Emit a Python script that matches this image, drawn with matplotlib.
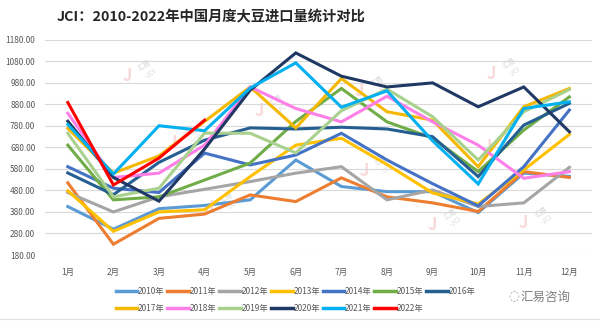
import matplotlib
matplotlib.use("Agg")
import matplotlib.pyplot as plt
from matplotlib.lines import Line2D

plt.rcParams["font.family"] = ["Noto Sans CJK SC", "DejaVu Sans"]
plt.rcParams["axes.unicode_minus"] = False

# 月份
months = ["1月", "2月", "3月", "4月", "5月", "6月", "7月", "8月", "9月", "10月", "11月", "12月"]

# 各年度月度大豆进口量(万吨)
y2010 = [405, 300, 395, 410, 436, 621, 498, 474, 474, 377, 560, 545]
y2011 = [515, 230, 350, 370, 459, 428, 538, 450, 422, 382, 567, 540]
y2012 = [470, 380, 450, 485, 521, 560, 590, 436, 482, 405, 422, 587]
y2013 = [478, 290, 380, 390, 544, 690, 722, 600, 468, 417, 575, 740]
y2014 = [590, 490, 470, 653, 598, 644, 745, 621, 511, 408, 590, 853]
y2015 = [690, 436, 450, 528, 607, 800, 953, 798, 723, 567, 760, 914]
y2016 = [561, 460, 610, 713, 770, 765, 773, 765, 729, 544, 783, 884]
y2017 = [768, 560, 640, 800, 960, 770, 999, 845, 806, 590, 868, 953]
y2018 = [838, 540, 560, 690, 960, 860, 798, 917, 798, 690, 536, 567]
y2019 = [745, 450, 490, 746, 745, 654, 850, 950, 822, 621, 845, 948]
y2020 = [801, 540, 430, 672, 945, 1118, 1010, 960, 979, 868, 960, 752]
y2021 = [786, 556, 780, 757, 955, 1072, 866, 942, 710, 510, 860, 891]
y2022 = [888, 505, 630, 806]

series = [
    ("2010年", y2010, "#5B9BD5"),
    ("2011年", y2011, "#ED7D31"),
    ("2012年", y2012, "#A5A5A5"),
    ("2013年", y2013, "#FFC000"),
    ("2014年", y2014, "#4472C4"),
    ("2015年", y2015, "#70AD47"),
    ("2016年", y2016, "#255E91"),
    ("2017年", y2017, "#F5B800"),
    ("2018年", y2018, "#FF7FE8"),
    ("2019年", y2019, "#A9D18E"),
    ("2020年", y2020, "#1F3864"),
    ("2021年", y2021, "#00B0F0"),
    ("2022年", y2022, "#FF0000"),
]

fig = plt.figure(figsize=(6.0, 3.23), dpi=100)
ax = fig.add_axes([0.075, 0.2105, 0.912, 0.667])

for name, vals, color in series:
    ax.plot(range(len(vals)), vals, color=color, linewidth=2.2,
            solid_joinstyle="miter", label=name)

ax.set_xlim(-0.5, 11.5)
ax.set_ylim(180, 1180)
ax.set_yticks(range(180, 1181, 100))
ax.set_yticklabels([f"{v:.2f}" for v in range(180, 1181, 100)])
ax.set_xticks(range(12))
ax.set_xticklabels(months)
ax.tick_params(axis="both", length=0, labelsize=6, colors="#595959")
ax.tick_params(axis="y", pad=7)
ax.tick_params(axis="x", pad=9)
ax.grid(axis="y", color="#D9D9D9", linewidth=0.8)
ax.set_axisbelow(True)
for s in ax.spines.values():
    s.set_visible(False)

# 水印
for (wx, wy) in [(1.3, 1010), (4.2, 850), (6.4, 940), (9.3, 1020), (2.3, 700),
                 (6.5, 570), (9.2, 680), (3.1, 400), (8.0, 320), (10.0, 330)]:
    ax.text(wx, wy, "J", color="#F4B6B6", fontsize=12, fontweight="bold",
            ha="center", va="center", alpha=0.5, zorder=0)
    ax.text(wx + 0.45, wy + 30, "汇易\n-JCI", color="#CFCFCF", fontsize=5,
            rotation=35, ha="center", va="center", alpha=0.8, zorder=0)

fig.text(0.095, 0.945, "JCI：2010-2022年中国月度大豆进口量统计对比",
         fontsize=10.3, fontweight="bold", color="#262626", va="center")

# 图例按行排列
order = [0, 7, 1, 8, 2, 9, 3, 10, 4, 11, 5, 12, 6]
handles = [Line2D([], [], color=series[i][2], linewidth=2.5) for i in order]
labels = [series[i][0] for i in order]
fig.legend(handles, labels, ncol=7, loc="center left",
           bbox_to_anchor=(0.18, 0.071), frameon=False, fontsize=6,
           handlelength=2.6, handletextpad=0.1, columnspacing=0.3,
           labelspacing=0.9, labelcolor="#595959")

fig.text(0.868, 0.08, "汇易咨询", fontsize=9, color="#7F7F7F", va="center")
fig.text(0.848, 0.08, "◌", fontsize=9, color="#9F9F9F", va="center",
         family=["DejaVu Sans"])

fig.add_artist(Line2D([0.0, 1.0], [0.012, 0.012], color="#E0E0E0", linewidth=0.8))

fig.savefig("out.png", dpi=100, facecolor="white")
